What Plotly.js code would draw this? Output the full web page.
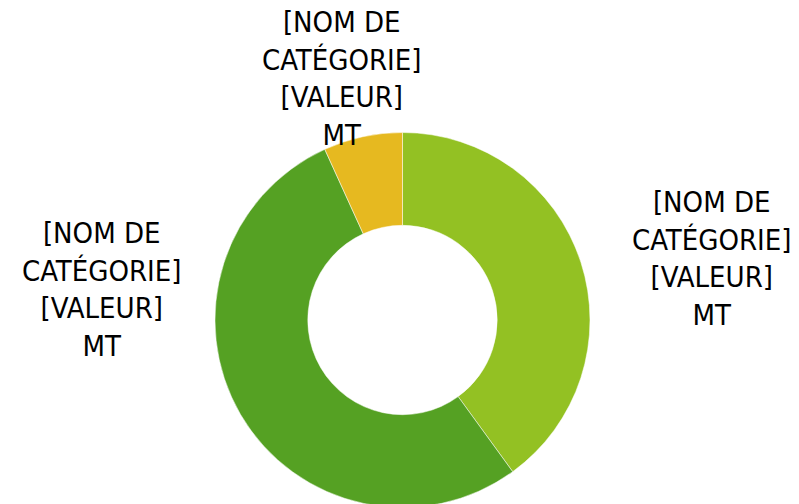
<!DOCTYPE html>
<html>
<head>
<meta charset="utf-8">
<script src="https://cdn.plot.ly/plotly-3.0.1.min.js"></script>
<style>
html, body { margin: 0; padding: 0; overflow: hidden; background: #fff; }
#chart { width: 799px; height: 640px; }
</style>
</head>
<body>
<div id="chart"></div>
<script>
// Data
const categories = ["[NOM DE CATÉGORIE]", "[NOM DE CATÉGORIE]", "[NOM DE CATÉGORIE]"];
const valueLabels = ["[VALEUR]", "[VALEUR]", "[VALEUR]"];
const unit = "MT";
const values = [40, 53.2, 6.8];
const colors = ["#93C123", "#55A123", "#E6B920"];

// Label placement (pixel centres) for each slice label
const labelPos = [[711, 258], [101, 289], [341, 79]];

const W = 799, H = 640;

function labelText(i) {
  const parts = categories[i].split(" DE ");
  return parts[0] + " DE<br>" + parts[1] + "<br>" + valueLabels[i] + "<br>" + unit;
}

const trace = {
  type: "pie",
  values: values,
  labels: ["a", "b", "c"],
  marker: { colors: colors, line: { color: "#ffffff", width: 0.5 } },
  hole: 0.505,
  sort: false,
  direction: "clockwise",
  rotation: 0,
  textinfo: "none",
  hoverinfo: "none",
  domain: { x: [215 / W, 590 / W], y: [0, 1] }
};

const annotations = labelPos.map((p, i) => ({
  text: labelText(i),
  xref: "paper", yref: "paper",
  x: p[0] / W, y: 1 - p[1] / H,
  xanchor: "center", yanchor: "middle",
  showarrow: false,
  align: "center",
  font: { family: "DejaVu Sans Condensed, DejaVu Sans", size: 29, color: "#000000" }
}));

Plotly.newPlot("chart", [trace], {
  width: W, height: H,
  margin: { l: 0, r: 0, t: 0, b: 0 },
  paper_bgcolor: "#ffffff",
  showlegend: false,
  annotations: annotations
}, { staticPlot: true });
</script>
</body>
</html>
